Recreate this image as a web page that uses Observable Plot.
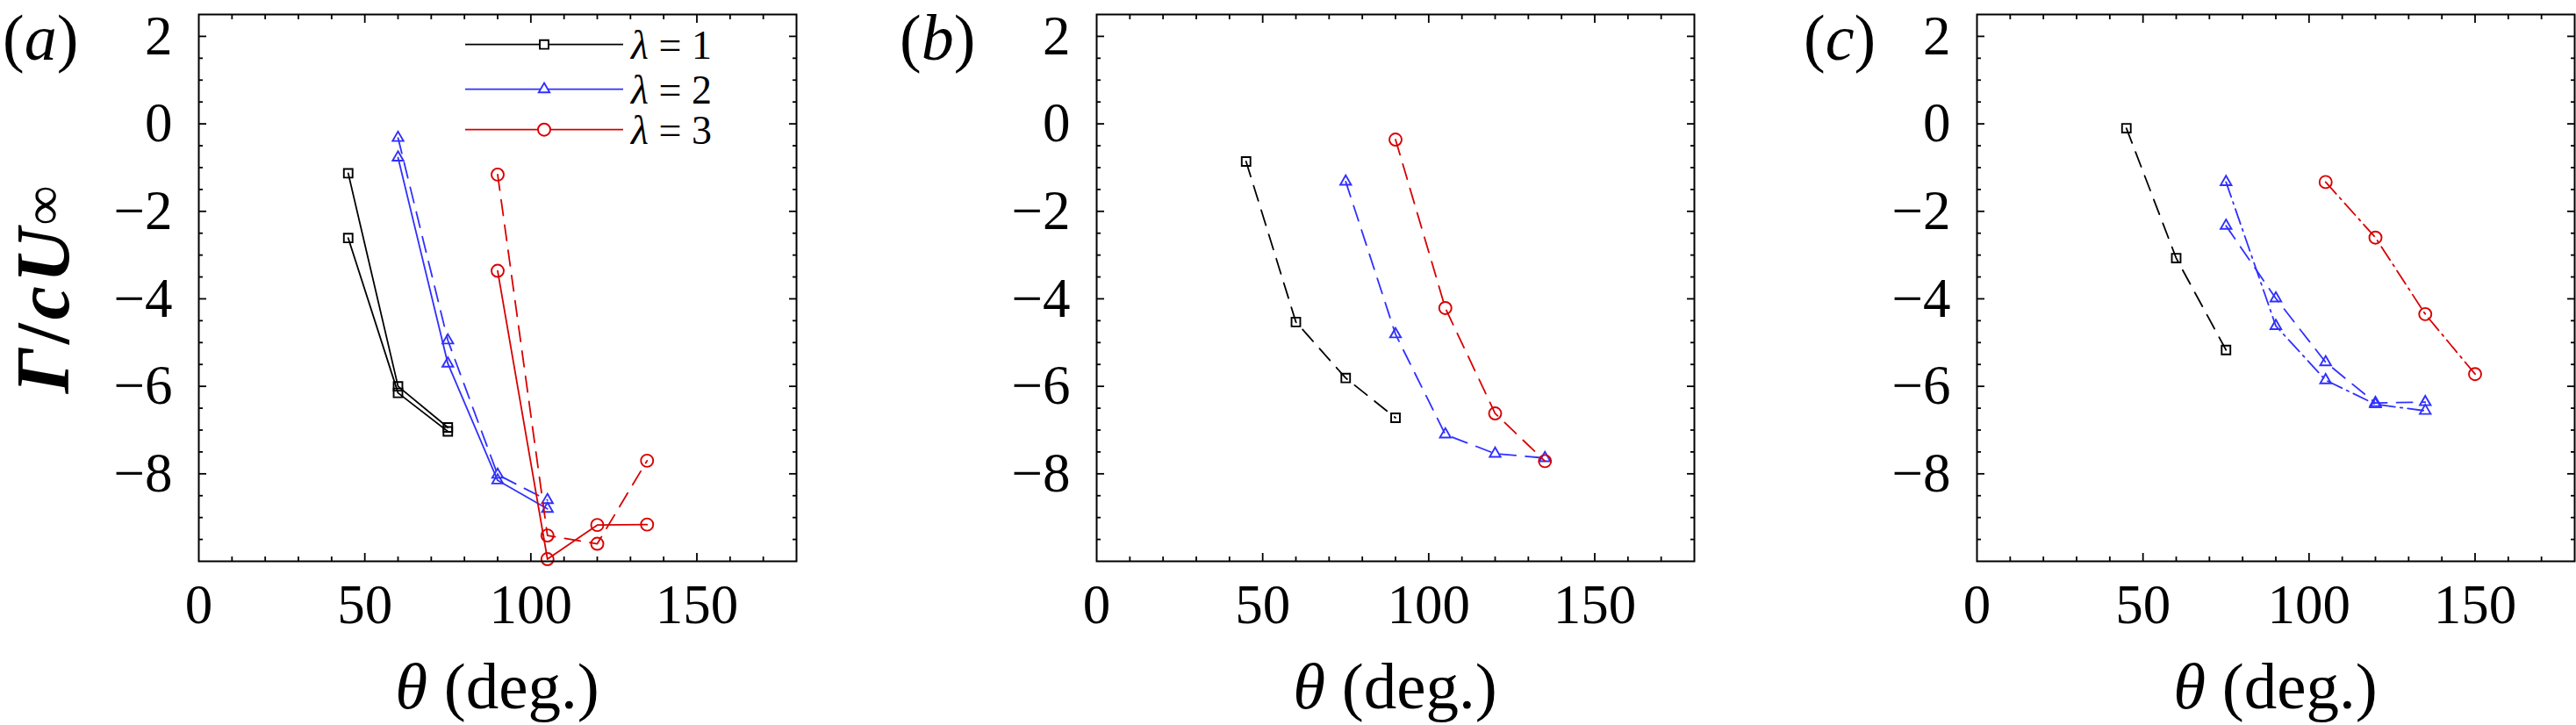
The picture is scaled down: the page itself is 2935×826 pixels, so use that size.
<!DOCTYPE html>
<html>
<head>
<meta charset="utf-8">
<script src="https://cdn.jsdelivr.net/npm/d3@7"></script>
<script src="https://cdn.jsdelivr.net/npm/@observablehq/plot@0.6"></script>
<style>
html, body { margin: 0; padding: 0; background: #ffffff; }
#root { position: relative; width: 2935px; height: 826px; overflow: hidden; background: #ffffff; }
#root > svg { position: absolute; top: 0; }
#ylab {
  position: absolute;
  width: 623px; height: 120px;
  display: flex; align-items: center; justify-content: center;
  transform: rotate(-90deg); transform-origin: 50% 50%;
  font-family: 'Liberation Serif', 'Times New Roman', serif;
  font-weight: bold; font-size: 86px; line-height: 1;
  letter-spacing: 4px; white-space: nowrap; color: #000;
}
#ylab i { font-style: italic; }
#ylab sub { font-size: 0.72em; vertical-align: -0.22em; line-height: 0; }
</style>
</head>
<body>
<div id="root"></div>
<script>
// ---------------- data ----------------
// Panel (a)
const thetaA_l1 = [45, 60, 75];
const gammaA_l1_solidA = [-1.13, -6.0, -6.94];
const gammaA_l1_solidB = [-2.61, -6.15, -7.03];
const thetaA_l2 = [60, 75, 90, 105];
const gammaA_l2_dashed = [-0.32, -4.95, -8.02, -8.6];
const gammaA_l2_solid = [-0.77, -5.48, -8.15, -8.8];
const thetaA_l3 = [90, 105, 120, 135];
const gammaA_l3_dashed = [-1.16, -9.41, -9.6, -7.7];
const gammaA_l3_solid = [-3.36, -9.95, -9.17, -9.16];

// Panel (b)
const thetaB_l1 = [45, 60, 75, 90];
const gammaB_l1 = [-0.86, -4.53, -5.81, -6.72];
const thetaB_l2 = [75, 90, 105, 120, 135];
const gammaB_l2 = [-1.32, -4.81, -7.1, -7.54, -7.64];
const thetaB_l3 = [90, 105, 120, 135];
const gammaB_l3 = [-0.36, -4.21, -6.62, -7.71];

// Panel (c)
const thetaC_l1 = [45, 60, 75];
const gammaC_l1 = [-0.1, -3.07, -5.17];
const thetaC_l2 = [75, 90, 105, 120, 135];
const gammaC_l2_dashed = [-2.33, -3.99, -5.45, -6.38, -6.36];
const gammaC_l2_dashdot = [-1.33, -4.62, -5.86, -6.41, -6.56];
const thetaC_l3 = [105, 120, 135, 150];
const gammaC_l3 = [-1.33, -2.6, -4.35, -5.72];

// legend / labels / ticks
const lambdas = [1, 2, 3];
const panelLetters = ["a", "b", "c"];
const xDomain = [0, 180];
const yDomain = [-10, 2.5];
const xMajorLabels = [0, 50, 100, 150];
const xMajorTicks = [50, 100, 150];
const xMinorTicks = [10, 20, 30, 40, 60, 70, 80, 90, 110, 120, 130, 140, 160, 170];
const yMajorLabels = [2, 0, -2, -4, -6, -8];
const yMinorTicks = [1.5, 1, 0.5, -0.5, -1, -1.5, -2.5, -3, -3.5, -4.5, -5, -5.5, -6.5, -7, -7.5, -8.5, -9, -9.5];

// ---------------- styles ----------------
const FONT = "'Liberation Serif', 'Times New Roman', 'DejaVu Serif', serif";
const W = 2935, H = 826;
const FRAME_TOP = 16, FRAME_BOTTOM = 639;
const colorOf = {1: "#000000", 2: "#3030ff", 3: "#d80000"};
const symbolOf = {1: "square", 2: "triangle", 3: "circle"};
const radiusOf = {1: 5.6, 2: 4.6, 3: 7};
const dashOf = {solid: null, dashed: "18,11", dashdot: "18,6,2.5,6"};

const series = {
  a: [
    {theta: thetaA_l1, gamma: gammaA_l1_solidA, lambda: 1, style: "solid"},
    {theta: thetaA_l1, gamma: gammaA_l1_solidB, lambda: 1, style: "solid"},
    {theta: thetaA_l2, gamma: gammaA_l2_dashed, lambda: 2, style: "dashed"},
    {theta: thetaA_l2, gamma: gammaA_l2_solid, lambda: 2, style: "solid"},
    {theta: thetaA_l3, gamma: gammaA_l3_dashed, lambda: 3, style: "dashed"},
    {theta: thetaA_l3, gamma: gammaA_l3_solid, lambda: 3, style: "solid"}
  ],
  b: [
    {theta: thetaB_l1, gamma: gammaB_l1, lambda: 1, style: "dashed"},
    {theta: thetaB_l2, gamma: gammaB_l2, lambda: 2, style: "dashed"},
    {theta: thetaB_l3, gamma: gammaB_l3, lambda: 3, style: "dashed"}
  ],
  c: [
    {theta: thetaC_l1, gamma: gammaC_l1, lambda: 1, style: "dashed"},
    {theta: thetaC_l2, gamma: gammaC_l2_dashed, lambda: 2, style: "dashed"},
    {theta: thetaC_l2, gamma: gammaC_l2_dashdot, lambda: 2, style: "dashdot"},
    {theta: thetaC_l3, gamma: gammaC_l3, lambda: 3, style: "dashdot"}
  ]
};

// svg placement of each panel: [svgLeft, svgWidth, marginLeft, marginRight]
const layout = {
  a: [0, 1000, 226, 93],
  b: [1000, 935, 249, 5],
  c: [1935, 1000, 317, 2]
};

const fmt = d3.format("d");
const root = document.getElementById("root");

function makePanel(key) {
  const [left, width, mL, mR] = layout[key];
  const marks = [];
  for (const s of series[key]) {
    const pts = s.theta.map((t, i) => ({theta: t, gamma: s.gamma[i]}));
    marks.push(Plot.line(pts, {
      x: "theta", y: "gamma", stroke: colorOf[s.lambda], strokeWidth: 1.8,
      strokeDasharray: dashOf[s.style] || undefined
    }));
    marks.push(Plot.dot(pts, {
      x: "theta", y: "gamma", symbol: symbolOf[s.lambda], r: radiusOf[s.lambda],
      stroke: colorOf[s.lambda], strokeWidth: 1.9, fill: "none"
    }));
  }
  // inward ticks on all four sides
  const tk = {fill: "none", label: null, strokeWidth: 1.8, tickFormat: () => ""};
  marks.push(
    Plot.axisX(xMajorTicks, {...tk, anchor: "bottom", tickSize: 9, dy: -9}),
    Plot.axisX(xMinorTicks, {...tk, anchor: "bottom", tickSize: 5, dy: -5}),
    Plot.axisX(xMajorTicks, {...tk, anchor: "top", tickSize: 9, dy: 9}),
    Plot.axisX(xMinorTicks, {...tk, anchor: "top", tickSize: 5, dy: 5}),
    Plot.axisY(yMajorLabels, {...tk, anchor: "left", tickSize: 9, dx: 9}),
    Plot.axisY(yMinorTicks, {...tk, anchor: "left", tickSize: 5, dx: 5}),
    Plot.axisY(yMajorLabels, {...tk, anchor: "right", tickSize: 9, dx: -9}),
    Plot.axisY(yMinorTicks, {...tk, anchor: "right", tickSize: 5, dx: -5}),
    // tick labels
    Plot.axisX(xMajorLabels, {anchor: "bottom", tickSize: 0, tickPadding: 26, fontSize: 63, tickFormat: fmt, label: null, fill: "black"}),
    Plot.axisY(yMajorLabels, {anchor: "left", tickSize: 0, tickPadding: 30, fontSize: 63, tickFormat: fmt, label: null, fill: "black"}),
    Plot.frame({stroke: "black", strokeWidth: 2})
  );
  const svg = Plot.plot({
    width, height: H,
    marginTop: FRAME_TOP, marginBottom: H - FRAME_BOTTOM,
    marginLeft: mL, marginRight: mR,
    x: {domain: xDomain},
    y: {domain: yDomain},
    style: {fontFamily: FONT, background: "transparent", color: "black", overflow: "visible"},
    marks
  });
  svg.style.left = left + "px";
  root.appendChild(svg);
  return {frameLeft: left + mL, frameRight: left + width - mR};
}

const frames = {};
for (const k of panelLetters) frames[k] = makePanel(k);

// ---------------- overlay: panel letters, x labels, legend ----------------
const ov = d3.select(root).append("svg")
  .attr("width", W).attr("height", H)
  .style("left", "0px")
  .attr("font-family", FONT)
  .attr("fill", "black");

const letterX = {a: 3, b: 1025, c: 2055};
for (const k of panelLetters) {
  const t = ov.append("text").attr("x", letterX[k]).attr("y", 68).attr("font-size", 74);
  t.append("tspan").text("(");
  t.append("tspan").attr("font-style", "italic").text(k);
  t.append("tspan").text(")");

  const cx = (frames[k].frameLeft + frames[k].frameRight) / 2;
  const xl = ov.append("text").attr("x", cx).attr("y", 807).attr("font-size", 75).attr("text-anchor", "middle");
  xl.append("tspan").attr("font-style", "italic").text("θ");
  xl.append("tspan").text(" (deg.)");
}

// legend in panel (a)
{
  const rowsY = [50.7, 101.7, 147.7];
  const lx0 = 530, lx1 = 710, mx = 620, tx = 719;
  const d3sym = {square: d3.symbolSquare, triangle: d3.symbolTriangle, circle: d3.symbolCircle};
  lambdas.forEach((lam, i) => {
    const y = rowsY[i];
    ov.append("line").attr("x1", lx0).attr("x2", lx1).attr("y1", y).attr("y2", y)
      .attr("stroke", colorOf[lam]).attr("stroke-width", 1.8);
    const r = radiusOf[lam];
    ov.append("path")
      .attr("d", d3.symbol(d3sym[symbolOf[lam]], Math.PI * r * r)())
      .attr("transform", `translate(${mx},${y})`)
      .attr("fill", "white").attr("stroke", colorOf[lam]).attr("stroke-width", 1.9);
    const t = ov.append("text").attr("x", tx).attr("y", y + 16).attr("font-size", 46);
    t.append("tspan").attr("font-style", "italic").text("λ");
    t.append("tspan").text(" = " + lam);
  });
}

// y label (panel a only): an HTML block rotated about its centre, centred on the frame
{
  const cy = (FRAME_TOP + FRAME_BOTTOM) / 2;
  const cx = 48;
  const div = document.createElement("div");
  div.id = "ylab";
  div.innerHTML = "<i>Γ</i>/<i>cU</i><sub>∞</sub>";
  div.style.left = (cx - 623 / 2) + "px";
  div.style.top = (cy - 120 / 2) + "px";
  root.appendChild(div);
}
</script>
</body>
</html>
